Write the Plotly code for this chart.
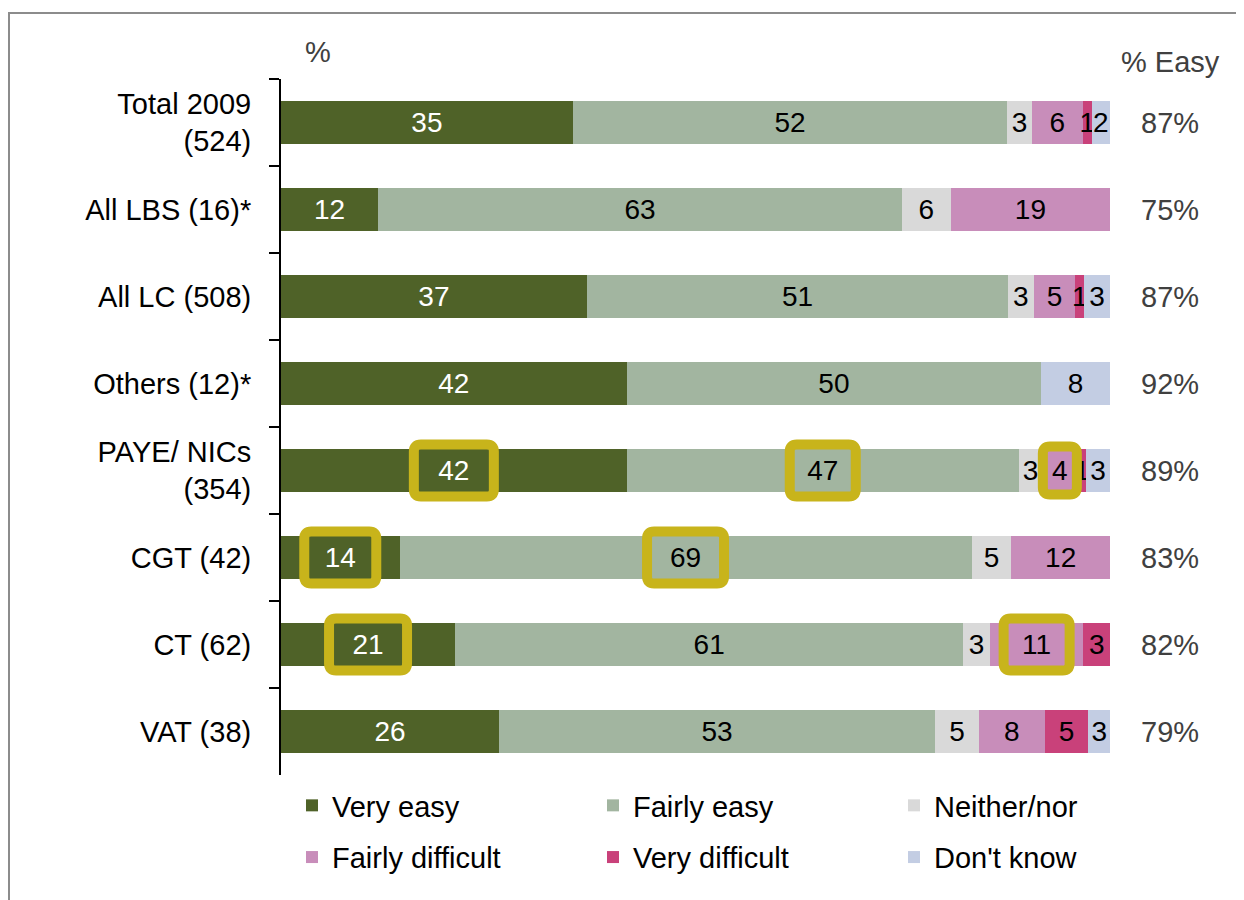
import plotly.graph_objects as go

# ---------------- data ----------------
categories = ["Total 2009<br>(524)", "All LBS (16)*", "All LC (508)", "Others (12)*",
              "PAYE/ NICs<br>(354)", "CGT (42)", "CT (62)", "VAT (38)"]
series_names = ["Very easy", "Fairly easy", "Neither/nor",
                "Fairly difficult", "Very difficult", "Don't know"]
very_easy        = [35.2, 11.7, 36.9, 41.7, 41.7, 14.3, 21.0, 26.3]
fairly_easy      = [52.4, 63.2, 50.8, 50.0, 47.3, 69.0, 61.3, 52.6]
neither_nor      = [3.0, 5.9, 3.1, None, 2.8, 4.8, 3.2, 5.3]
fairly_difficult = [6.1, 19.2, 5.0, None, 4.3, 11.9, 11.3, 7.9]
very_difficult   = [1.1, None, 1.1, None, 1.0, None, 3.2, 5.3]
dont_know        = [2.2, None, 3.1, 8.3, 2.9, None, None, 2.6]
pct_easy         = [87, 75, 87, 92, 89, 83, 82, 79]
# highlighted labels: (category index, series index)
highlights = [(4, 0), (4, 1), (4, 3), (5, 0), (5, 1), (6, 0), (6, 3)]

series_values = [very_easy, fairly_easy, neither_nor,
                 fairly_difficult, very_difficult, dont_know]

# ---------------- styles ----------------
FONT = "Liberation Sans, Arial, sans-serif"
colors = ["#4F6228", "#A2B5A0", "#D9D9D9", "#C88DBA", "#C9417A", "#C3CDE3"]
text_colors = ["white", "black", "black", "black", "black", "black"]
legend_ids = ["legend", "legend2", "legend3", "legend", "legend2", "legend3"]
box_sizes = {(4, 0): (80, 52), (4, 1): (66, 52), (4, 3): (34, 48),
             (5, 0): (72, 52), (5, 1): (77, 52), (6, 0): (78, 52), (6, 3): (66, 52)}
GOLD = "#C8B41B"
FS = 29
FS_BAR = 28

# page body has an 8px margin: figure coords = screen coords - 8
OFF = 8
L, T, PW, PH = 281 - OFF, 79 - OFF, 829, 696

fig = go.Figure()
for i, (name, vals) in enumerate(zip(series_names, series_values)):
    fig.add_trace(go.Bar(
        y=categories, x=vals, orientation="h", name=name,
        marker=dict(color=colors[i], line=dict(width=0)),
        text=["" if v is None else str(round(v)) for v in vals],
        textposition="inside", insidetextanchor="middle", textangle=0,
        constraintext="none",
        textfont=dict(family=FONT, size=FS_BAR, color=text_colors[i]),
        hoverinfo="skip", legend=legend_ids[i], legendgroup=name,
    ))

def rounded_path(w, h, r):
    a, b = w / 2, h / 2
    return (f"M {-a + r},{-b} L {a - r},{-b} Q {a},{-b} {a},{-b + r} "
            f"L {a},{b - r} Q {a},{b} {a - r},{b} L {-a + r},{b} "
            f"Q {-a},{b} {-a},{b - r} L {-a},{-b + r} Q {-a},{-b} {-a + r},{-b} Z")

def px_x(sx):  # screen x -> paper
    return (sx - OFF - L) / PW

def px_y(sy):  # screen y -> paper
    return 1 - (sy - OFF - T) / PH

shapes = []
for (ri, si) in highlights:
    start = sum(series_values[k][ri] or 0 for k in range(si))
    center = start + series_values[si][ri] / 2
    w, h = box_sizes[(ri, si)]
    shapes.append(dict(type="path", xref="x", yref="y",
                       xsizemode="pixel", ysizemode="pixel",
                       xanchor=center, yanchor=categories[ri],
                       path=rounded_path(w, h, 7),
                       line=dict(color=GOLD, width=10),
                       fillcolor="rgba(0,0,0,0)", layer="above"))

# outer frame
shapes.append(dict(type="rect", xref="paper", yref="paper",
                   x0=px_x(9), x1=px_x(1237), y0=px_y(13), y1=px_y(910),
                   line=dict(color="#8C8C8C", width=2),
                   fillcolor="rgba(0,0,0,0)", layer="below"))

annotations = []
for cat, pe in zip(categories, pct_easy):
    annotations.append(dict(x=px_x(1170), xref="paper", y=cat, yref="y",
                            text=f"{pe}%", showarrow=False, xanchor="center",
                            font=dict(family=FONT, size=FS, color="#404040")))
annotations.append(dict(x=px_x(1170), xref="paper", y=px_y(62), yref="paper",
                        text="% Easy", showarrow=False,
                        xanchor="center", yanchor="middle",
                        font=dict(family=FONT, size=FS, color="#404040")))
annotations.append(dict(x=px_x(318), xref="paper", y=px_y(52), yref="paper",
                        text="%", showarrow=False,
                        xanchor="center", yanchor="middle",
                        font=dict(family=FONT, size=FS, color="#404040")))

def legend_at(sx):
    return dict(x=px_x(sx), xanchor="left", y=px_y(780),
                yanchor="top", orientation="v", traceorder="grouped",
                tracegroupgap=11, bgcolor="rgba(0,0,0,0)",
                font=dict(family=FONT, size=FS, color="black"))

fig.update_layout(
    width=1244 - OFF, height=900 - OFF,
    margin=dict(l=L, r=1244 - OFF - L - PW, t=T, b=900 - OFF - T - PH),
    paper_bgcolor="white", plot_bgcolor="white",
    barmode="stack", bargap=0.5,
    font=dict(family=FONT, size=FS, color="black"),
    xaxis=dict(range=[0, 100], visible=False),
    yaxis=dict(type="category", autorange="reversed",
               showline=True, linecolor="black", linewidth=2,
               ticks="outside", ticklen=10, tickwidth=2, tickcolor="black",
               tickson="boundaries", showgrid=False, zeroline=False,
               tickfont=dict(family=FONT, size=FS, color="black"),
               ticklabelstandoff=22),
    legend=legend_at(292), legend2=legend_at(593), legend3=legend_at(894),
    shapes=shapes, annotations=annotations,
)

fig.write_html("out.html")
